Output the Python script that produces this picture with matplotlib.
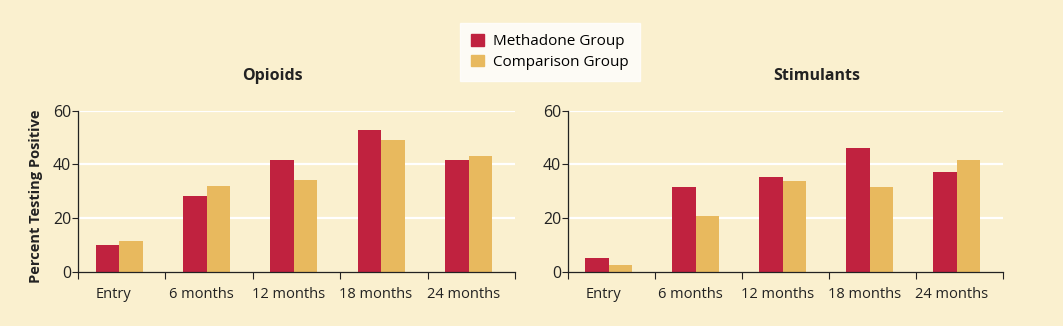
import numpy as np
import matplotlib.pyplot as plt
from matplotlib.patches import Patch

plt.rcParams['font.family'] = ['Open Sans', 'DejaVu Sans']

categories = ['Entry', '6 months', '12 months', '18 months', '24 months']
opioids_methadone = [10, 28.2, 41.6, 52.8, 41.6]
opioids_comparison = [11.4, 31.9, 34.2, 49.1, 43.1]
stim_methadone = [5.0, 31.5, 35.2, 46.0, 37.2]
stim_comparison = [2.5, 20.8, 33.8, 31.5, 41.6]

bg = '#FAF0CF'
red = '#C0223F'
gold = '#E8B95E'
dark = '#222222'

fig = plt.figure(figsize=(10.63, 3.26), dpi=100)
fig.patch.set_facecolor(bg)

ax1 = fig.add_axes([0.0734, 0.1666, 0.4111, 0.4938])
ax2 = fig.add_axes([0.5343, 0.1666, 0.4092, 0.4938])

x = np.arange(len(categories))
w = 0.27

def draw(ax, meth, comp, title, tx):
	ax.set_facecolor(bg)
	for y in [20, 40, 60]:
		ax.axhline(y, color='white', lw=1.6, zorder=0)
	ax.bar(x - w/2 - 0.03, meth, w, color=red, zorder=2)
	ax.bar(x + w/2 - 0.03, comp, w, color=gold, zorder=2)
	ax.set_xlim(-0.5, len(categories) - 0.5)
	ax.set_ylim(0, 60)
	ax.set_yticks([0, 20, 40, 60])
	ax.tick_params(axis='y', labelsize=11.5, length=4, width=0.8, color=dark, labelcolor=dark, pad=1)
	ax.set_xticks(np.arange(len(categories) + 1) - 0.5)
	ax.set_xticklabels([])
	ax.set_xticks(x - 0.09, minor=True)
	ax.set_xticklabels(categories, minor=True, fontsize=10.5, color=dark)
	ax.tick_params(axis='x', which='major', length=5, width=0.8, color=dark, direction='out')
	ax.tick_params(axis='x', which='minor', length=0, pad=11)
	for s in ['top', 'right']:
		ax.spines[s].set_visible(False)
	for s in ['left', 'bottom']:
		ax.spines[s].set_color(dark)
		ax.spines[s].set_linewidth(0.9)
	ax.text(tx, 1 + 35/161, title, transform=ax.transAxes, ha='center', va='center',
		fontsize=11.5, fontweight='bold', color=dark)

draw(ax1, opioids_methadone, opioids_comparison, 'Opioids', 0.446)
draw(ax2, stim_methadone, stim_comparison, 'Stimulants', 0.572)
ax1.set_ylabel('Percent Testing Positive', fontsize=10.5, fontweight='bold', color=dark, labelpad=5)
ax1.yaxis.set_label_coords(-0.080, 0.47)

handles = [Patch(color=red, label='Methadone Group'), Patch(color=gold, label='Comparison Group')]
leg = fig.legend(handles=handles, loc='center', bbox_to_anchor=(550/1063, 1 - 52/326),
		fontsize=11, frameon=True, fancybox=False, handlelength=0.8, handleheight=0.8,
		handletextpad=0.6, labelspacing=0.35, borderpad=0.75)
leg.get_frame().set_facecolor('white')
leg.get_frame().set_edgecolor('white')

fig.savefig('out.png', dpi=100, facecolor=bg)
